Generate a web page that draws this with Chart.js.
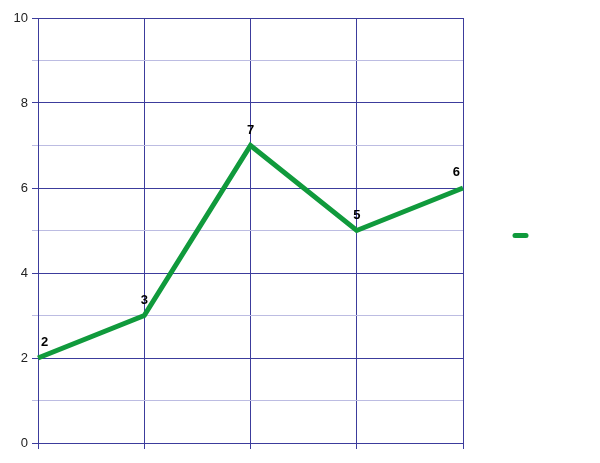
<!doctype html>
<html lang="en">
<head>
    <meta charset="UTF-8" />
    <title>Line chart</title>
    <script src="https://cdn.jsdelivr.net/npm/chart.js"></script>
    <style>
        html, body { margin: 0; padding: 0; background: #ffffff; }
        #wrap { width: 600px; height: 463px; }
    </style>
</head>
<body>
    <div id="wrap"><canvas id="myChart"></canvas></div>
    <script>
        // chart data
        const categories = ['1', '2', '3', '4', '5'];
        const values = [2, 3, 7, 5, 6];
        const yTicks = [0, 2, 4, 6, 8, 10];

        const lineColor = '#109a3c';
        const majorGrid = '#3c3c9c';
        const minorGrid = '#bcbce2';

        /* value labels above points, kept inside the plot area */
        const pointLabels = {
            id: 'pointLabels',
            afterDatasetsDraw(chart) {
                const c = chart.ctx;
                const area = chart.chartArea;
                const meta = chart.getDatasetMeta(0);
                c.save();
                c.font = 'bold 13px "Liberation Sans", Arial, sans-serif';
                c.fillStyle = '#000000';
                c.textBaseline = 'bottom';
                meta.data.forEach((pt, i) => {
                    const txt = String(values[i]);
                    const w = c.measureText(txt).width;
                    let x = pt.x - w / 2;
                    if (x < area.left + 3) x = area.left + 3;
                    if (x + w > area.right - 3) x = area.right - 3 - w;
                    c.textAlign = 'left';
                    c.fillText(txt, x, pt.y - 9);
                });
                c.restore();
            }
        };

        /* legend: just a short line sample, no text */
        const legendDash = {
            id: 'legendDash',
            afterDraw(chart) {
                const c = chart.ctx;
                const area = chart.chartArea;
                const midY = (area.top + area.bottom) / 2;
                c.save();
                c.strokeStyle = lineColor;
                c.lineWidth = 5;
                c.lineCap = 'round';
                c.beginPath();
                c.moveTo(area.right + 52, midY + 5);
                c.lineTo(area.right + 63, midY + 5);
                c.stroke();
                c.restore();
            }
        };

        const ctx = document.getElementById('myChart');

        new Chart(ctx, {
            type: 'line',
            data: {
                labels: categories,
                datasets: [{
                    label: '',
                    data: values,
                    borderColor: lineColor,
                    borderWidth: 5,
                    pointRadius: 0,
                    pointHoverRadius: 0,
                    tension: 0,
                    fill: false
                }]
            },
            options: {
                responsive: true,
                maintainAspectRatio: false,
                animation: false,
                layout: {
                    padding: { left: 0, top: 18, right: 137, bottom: 0 }
                },
                plugins: {
                    legend: { display: false },
                    tooltip: { enabled: false }
                },
                scales: {
                    x: {
                        offset: false,
                        grid: {
                            color: majorGrid,
                            lineWidth: 1,
                            drawTicks: true,
                            tickLength: 6
                        },
                        border: { color: majorGrid },
                        ticks: { display: false },
                        afterFit: s => { s.height = 20; }
                    },
                    y: {
                        min: 0,
                        max: 10,
                        grid: {
                            color: c => (c.tick && c.tick.value % 2 === 1) ? minorGrid : majorGrid,
                            lineWidth: 1,
                            tickLength: 6
                        },
                        border: { color: majorGrid },
                        ticks: {
                            stepSize: 1,
                            padding: 4,
                            color: '#222222',
                            font: { family: '"Liberation Sans", Arial, sans-serif', size: 13 },
                            callback: v => yTicks.includes(v) ? String(v) : ''
                        },
                        afterFit: s => { s.width = 38; }
                    }
                }
            },
            plugins: [pointLabels, legendDash]
        });
    </script>
</body>
</html>
